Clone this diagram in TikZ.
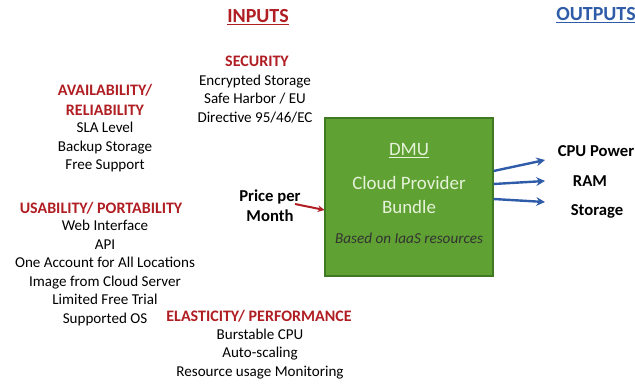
\documentclass[tikz,border=0pt]{standalone}
\usepackage{fontspec}
\setmainfont{Carlito}
\usetikzlibrary{arrows.meta}
\usetikzlibrary{positioning}
\definecolor{DarkRed}{HTML}{B01E23}
\definecolor{DarkBlue}{HTML}{2E5CA8}
\definecolor{BoxGreen}{HTML}{5FA132}
\definecolor{BoxEdge}{HTML}{3F7A22}
\definecolor{BoxText}{HTML}{E6F2DA}
\tikzset{
  heading/.style={font=\fontsize{15}{18}\selectfont\bfseries, inner sep=0pt},
  group/.style={font=\fontsize{12}{15}\selectfont\bfseries, text=DarkRed, inner sep=0pt},
  item/.style={font=\fontsize{11.3}{13.9}\selectfont, align=center, inner sep=0pt},
  boxtext/.style={font=\fontsize{14.2}{18}\selectfont, text=BoxText, align=center, inner sep=0pt},
  outlabel/.style={font=\fontsize{12.5}{15}\selectfont\bfseries, inner sep=0pt},
  outarrow/.style={DarkBlue, line width=1.8pt, -{Stealth[length=6.5pt,width=6.5pt]}}
}
\begin{document}
\begin{tikzpicture}[x=0.75pt, y=-0.75pt]
  \useasboundingbox (0,0) rectangle (635,383);

  % headings
  \node[heading, text=DarkRed] (Inputs) at (258,17) {\underline{INPUTS}};
  \node[heading, text=DarkBlue] (Outputs) at (596,15) {\underline{OUTPUTS}};

  % input groups
  \node[group] (Security) at (257,61) {SECURITY};
  \node[item] (SecItems) at (255,99)
    {Encrypted Storage\\Safe Harbor / EU\\Directive 95/46/EC};

  \node[group, align=center] (Avail) at (105,100)
    {AVAILABILITY/\\RELIABILITY};
  \node[item] (AvailItems) at (105,147)
    {SLA Level\\Backup Storage\\Free Support};

  \node[group] (Usab) at (101,208) {USABILITY/ PORTABILITY};
  \node[item] (UsabItems) at (105,273)
    {Web Interface\\API\\One Account for All Locations\\%
     Image from Cloud Server\\Limited Free Trial\\Supported OS};

  \node[group] (Elast) at (259,316) {ELASTICITY/ PERFORMANCE};
  \node[item] (ElastItems) at (260,354)
    {Burstable CPU\\Auto-scaling\\Resource usage Monitoring};

  % the DMU box
  \node[draw=BoxEdge, fill=BoxGreen, line width=0.8pt,
        minimum width=126pt, minimum height=118.5pt, inner sep=0pt]
    (DMU) at (409,197) {};
  \node[boxtext] (DMUname) at (409,151) {\underline{DMU}};
  \node[boxtext] (Bundle) at (409,195) {Cloud Provider\\Bundle};
  \node[item, text=black!80, font=\fontsize{11.4}{13}\selectfont\itshape] (Based) at (409,238)
    {Based on IaaS resources};

  % price input
  \node[outlabel, align=center] (Price) at (270,206) {Price per\\Month};
  \coordinate (PriceTail) at (295,204);
  \draw[DarkRed, line width=1.5pt, -{Stealth[length=5pt,width=5pt]}]
    (PriceTail) -- (DMU.west |- 0,210);

  % outputs
  \node[outlabel] (Cpu) at (596,151) {CPU Power};
  \node[outlabel] (Ram) at (590,181) {RAM};
  \node[outlabel] (Storage) at (597,211) {Storage};

  \coordinate (CpuTip) at (545,160);
  \coordinate (RamTip) at (545,181);
  \coordinate (StorageTip) at (545,202);
  \draw[outarrow] (DMU.east |- 0,171) -- (CpuTip);
  \draw[outarrow] (DMU.east |- 0,184) -- (RamTip);
  \draw[outarrow] (DMU.east |- 0,199) -- (StorageTip);
\end{tikzpicture}
\end{document}
